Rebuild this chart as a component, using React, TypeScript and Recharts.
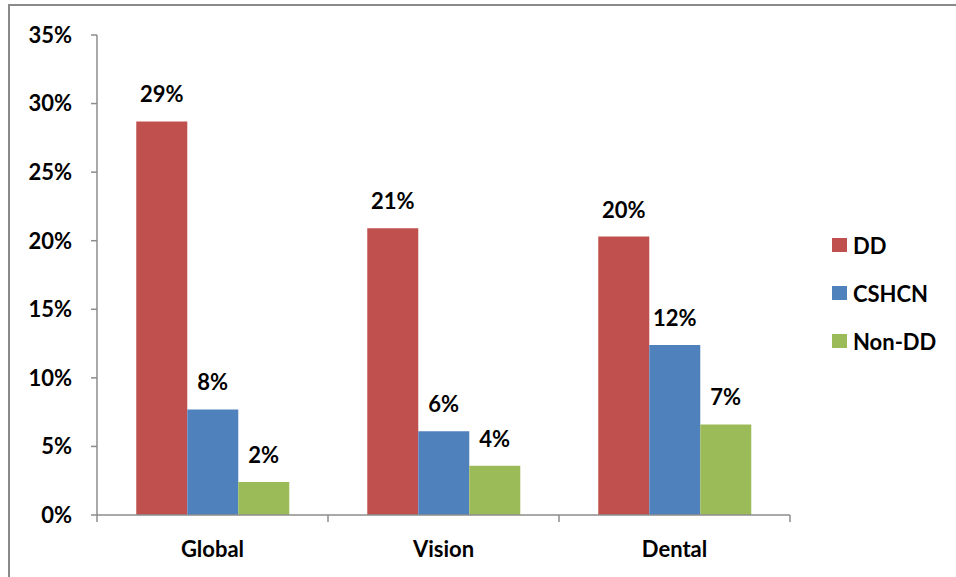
import { BarChart, Bar, XAxis, YAxis, LabelList } from "recharts";

const categories = ["Global", "Vision", "Dental"];
const seriesNames = ["DD", "CSHCN", "Non-DD"];
const ddValues = [28.7, 20.9, 20.3];
const cshcnValues = [7.7, 6.1, 12.4];
const nonDdValues = [2.4, 3.6, 6.6];
const yTicks = [0, 5, 10, 15, 20, 25, 30, 35];

const colors = ["#C0504D", "#4F81BD", "#9BBB59"];

const data = categories.map((name, i) => ({
  name,
  DD: ddValues[i],
  CSHCN: cshcnValues[i],
  "Non-DD": nonDdValues[i],
}));

const FONT = "Lato, 'Open Sans', sans-serif";
const AXIS = "#8c8c8c";

function CategoryTick(props: any) {
  const { x, y, payload, index, width } = props;
  const bw = width / categories.length;
  const left = x - bw / 2;
  const right = x + bw / 2;
  return (
    <g>
      <line x1={left} y1={y} x2={left} y2={y + 7} stroke={AXIS} strokeWidth={1.5} />
      {index === categories.length - 1 && (
        <line x1={right} y1={y} x2={right} y2={y + 7} stroke={AXIS} strokeWidth={1.5} />
      )}
      <text
        x={x}
        y={y + 33}
        textAnchor="middle"
        dominantBaseline="central"
        fontFamily={FONT}
        fontWeight="bold"
        fontSize={22}
        fill="#000"
      >
        {payload.value}
      </text>
    </g>
  );
}

export default function App() {
  return (
    <div
      style={{
        position: "fixed",
        left: 0,
        top: 0,
        width: 956,
        height: 577,
        background: "#fff",
        overflow: "hidden",
      }}
    >
      <div
        style={{
          position: "absolute",
          left: 8,
          top: 4,
          width: 960,
          height: 600,
          borderTop: "2px solid #8a8a8a",
          borderLeft: "2px solid #8a8a8a",
        }}
      />
      <div style={{ position: "absolute", left: 0, top: 0 }}>
        <BarChart
          width={956}
          height={577}
          data={data}
          margin={{ top: 35, right: 166, bottom: 12, left: 0 }}
          barCategoryGap="17%"
          barGap={0}
        >
          <XAxis
            dataKey="name"
            height={50}
            axisLine={{ stroke: AXIS, strokeWidth: 1.5 }}
            tickLine={false}
            tickSize={0}
            tickMargin={0}
            tick={<CategoryTick />}
            interval={0}
          />
          <YAxis
            width={97}
            domain={[0, 35]}
            ticks={yTicks}
            interval={0}
            axisLine={{ stroke: AXIS, strokeWidth: 1.5 }}
            tickLine={{ stroke: AXIS, strokeWidth: 1.5 }}
            tickSize={6}
            tickMargin={19}
            tickFormatter={(v: number) => `${v}%`}
            tick={{ fill: "#000", fontFamily: FONT, fontWeight: "bold", fontSize: 22 }}
          />
          {seriesNames.map((s, i) => (
            <Bar key={s} dataKey={s} fill={colors[i]} isAnimationActive={false}>
              <LabelList
                dataKey={s}
                position="top"
                offset={19}
                formatter={(v: any) => `${Math.round(Number(v))}%`}
                style={{ fill: "#000", fontFamily: FONT, fontWeight: "bold", fontSize: 22 }}
              />
            </Bar>
          ))}
        </BarChart>
      </div>
      <div style={{ position: "absolute", left: 832, top: 229, fontFamily: FONT }}>
        {seriesNames.map((s, i) => (
          <div
            key={s}
            style={{ display: "flex", alignItems: "center", height: 32, marginBottom: 16 }}
          >
            <div style={{ width: 15, height: 14, background: colors[i], marginRight: 6 }} />
            <span style={{ fontWeight: "bold", fontSize: 22, color: "#000" }}>{s}</span>
          </div>
        ))}
      </div>
    </div>
  );
}
